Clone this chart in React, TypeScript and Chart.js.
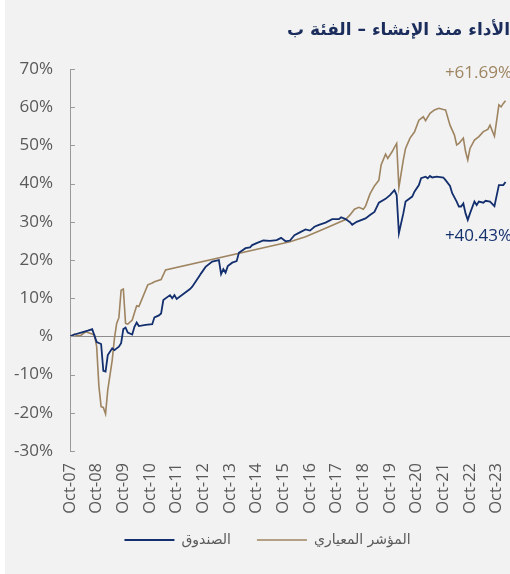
import React, { useEffect, useRef } from "react";
import { Chart, registerables } from "chart.js";

Chart.register(...registerables);

const TITLE = "الأداء منذ الإنشاء – الفئة ب";
const FUND_LABEL = "الصندوق";
const BENCH_LABEL = "المؤشر المعياري";

// x = months since Oct 2007
const X_TICK_MONTHS = [0, 12, 24, 36, 48, 60, 72, 84, 96, 108, 120, 132, 144, 156, 168, 180, 192];
const X_TICK_LABELS = [
  "Oct-07", "Oct-08", "Oct-09", "Oct-10", "Oct-11", "Oct-12", "Oct-13", "Oct-14", "Oct-15",
  "Oct-16", "Oct-17", "Oct-18", "Oct-19", "Oct-20", "Oct-21", "Oct-22", "Oct-23",
];
const Y_TICK_VALUES = [-30, -20, -10, 0, 10, 20, 30, 40, 50, 60, 70];
const Y_TICK_LABELS = ["-30%", "-20%", "-10%", "%", "10%", "20%", "30%", "40%", "50%", "60%", "70%"];

const FUND_MONTHS = [
  0, 2, 5, 8, 10, 11, 12, 14, 15, 16, 17, 19, 20, 22, 23, 24, 25, 26, 28, 29, 30, 31, 34, 37, 38, 40,
  41, 42, 45, 46, 47, 48, 51, 54, 55, 58, 59, 61, 64, 67, 68, 69, 70, 71, 73, 75, 76, 79, 81, 82, 84,
  87, 90, 93, 95, 97, 99, 101, 103, 106, 108, 110, 112, 115, 118, 121, 122, 124, 126, 127, 129, 133,
  135, 137, 139, 142, 144, 146, 147, 148, 150, 151, 154, 155, 157, 158, 160, 161, 162, 163, 165, 168,
  169, 171, 172, 174, 175, 176, 177, 178, 179, 180, 182, 183, 184, 186, 187, 189, 191, 193, 195, 196,
];
const FUND_VALUES = [
  0, 0.5, 1.0, 1.5, 1.9, 0.2, -1.5, -2.0, -9.0, -9.2, -4.9, -3.1, -3.6, -2.7, -1.8, 1.9, 2.3, 1.0, 0.5,
  2.5, 3.6, 2.7, 3.0, 3.2, 5.0, 5.5, 6.0, 9.5, 10.8, 10.0, 10.8, 9.8, 11.1, 12.4, 13.0, 15.6, 16.5,
  18.2, 19.6, 20.0, 16.3, 17.6, 16.7, 18.4, 19.3, 19.7, 21.9, 23.1, 23.3, 23.9, 24.4, 25.1, 25.0, 25.2,
  25.8, 24.9, 25.1, 26.5, 27.1, 28.0, 27.7, 28.7, 29.2, 29.8, 30.7, 30.7, 31.2, 30.7, 29.9, 29.2, 30.0,
  30.9, 31.8, 32.6, 35.0, 36.0, 37.0, 38.3, 37.0, 27.0, 32.2, 35.3, 36.6, 37.9, 39.6, 41.4, 41.8, 41.4,
  42.0, 41.6, 41.8, 41.6, 40.9, 39.4, 37.5, 35.3, 34.0, 34.0, 34.8, 32.2, 30.5, 32.2, 35.3, 34.4, 35.3,
  35.0, 35.5, 35.3, 34.1, 39.6, 39.6, 40.43,
];

const BENCH_MONTHS = [
  0, 2, 3, 5, 7, 9, 11, 12, 13, 14, 15, 16, 17, 19, 20, 21, 22, 23, 24, 25, 26, 28, 30, 31, 35, 37, 38,
  41, 43, 99, 106, 115, 124, 126, 128, 130, 132, 133, 135, 137, 139, 140, 142, 143, 145, 146, 147, 148,
  150, 151, 153, 155, 157, 159, 160, 162, 164, 166, 168, 169, 171, 173, 174, 175, 177, 178, 179, 180,
  182, 184, 186, 188, 189, 191, 193, 194, 195, 196,
];
const BENCH_VALUES = [
  0, 0.6, 0.2, 0.3, 1.2, 0.8, 0.4, -2.7, -13.0, -18.4, -18.6, -20.3, -14.0, -6.2, -0.5, 3.4, 4.9, 12.1,
  12.4, 3.4, 3.2, 4.3, 8.0, 7.8, 13.5, 14.0, 14.3, 14.9, 17.4, 24.8, 26.1, 28.3, 30.6, 31.8, 33.3, 33.8,
  33.3, 34.1, 37.3, 39.4, 40.9, 44.9, 47.7, 46.6, 48.4, 49.5, 50.5, 39.0, 46.2, 49.2, 51.9, 53.5, 56.6,
  57.5, 56.5, 58.4, 59.3, 59.7, 59.4, 59.3, 55.3, 52.7, 50.1, 50.5, 51.9, 48.4, 46.2, 49.2, 51.4, 52.3,
  53.6, 54.2, 55.3, 52.4, 60.6, 60.1, 61.0, 61.69,
];

const NAVY = "#132f6e";
const BROWN = "#9e8460";
const GREY_TEXT = "#595959";
const FONT = "'Open Sans', 'DejaVu Sans', sans-serif";

const overlayPlugin = {
  id: "overlay",
  afterLayout(chart: any) {
    if (chart.legend) {
      chart.legend.left += 20;
      chart.legend.top -= 10;
      chart.legend.bottom -= 10;
    }
  },
  afterDatasetsDraw(chart: any) {
    const { ctx, chartArea, scales } = chart;
    const y = scales.y;
    ctx.save();
    ctx.strokeStyle = "#9a9a9a";
    ctx.lineWidth = 1;
    Y_TICK_VALUES.forEach((v) => {
      const py = Math.round(y.getPixelForValue(v)) + 0.5;
      ctx.beginPath();
      ctx.moveTo(chartArea.left, py);
      ctx.lineTo(chartArea.left + 5, py);
      ctx.stroke();
    });
    ctx.font = `17px ${FONT}`;
    ctx.textAlign = "right";
    ctx.textBaseline = "middle";
    const fundMeta = chart.getDatasetMeta(0);
    const benchMeta = chart.getDatasetMeta(1);
    const fEnd = fundMeta.data[fundMeta.data.length - 1];
    const bEnd = benchMeta.data[benchMeta.data.length - 1];
    ctx.fillStyle = BROWN;
    ctx.fillText("+" + BENCH_VALUES[BENCH_VALUES.length - 1].toFixed(2) + "%", chartArea.right + 2, bEnd.y - 28);
    ctx.fillStyle = NAVY;
    ctx.fillText("+" + FUND_VALUES[FUND_VALUES.length - 1].toFixed(2) + "%", chartArea.right + 2, fEnd.y + 54);
    ctx.restore();
  },
};

export default function App() {
  const ref = useRef<HTMLCanvasElement>(null);
  useEffect(() => {
    const chart = new Chart(ref.current as HTMLCanvasElement, {
      type: "line",
      data: {
        datasets: [
          {
            label: FUND_LABEL,
            data: FUND_MONTHS.map((m, i) => ({ x: m, y: FUND_VALUES[i] })),
            borderColor: NAVY,
            backgroundColor: NAVY,
            borderWidth: 1.8,
            pointRadius: 0,
            tension: 0,
          },
          {
            label: BENCH_LABEL,
            data: BENCH_MONTHS.map((m, i) => ({ x: m, y: BENCH_VALUES[i] })),
            borderColor: BROWN,
            backgroundColor: BROWN,
            borderWidth: 1.6,
            pointRadius: 0,
            tension: 0,
          },
        ],
      },
      options: {
        animation: false,
        responsive: true,
        maintainAspectRatio: false,
        layout: { padding: { top: 0, right: 0, bottom: 7, left: 0 } },
        scales: {
          x: {
            type: "linear",
            min: 0,
            max: 198,
            afterBuildTicks: (scale: any) => {
              scale.ticks = X_TICK_MONTHS.map((v) => ({ value: v }));
            },
            afterFit: (scale: any) => {
              scale.height = 66;
              scale.paddingLeft = 0;
              scale.paddingRight = 0;
            },
            ticks: {
              autoSkip: false,
              minRotation: 90,
              maxRotation: 90,
              padding: 12,
              color: GREY_TEXT,
              font: { size: 16.5, family: FONT },
              callback: (_v: any, i: number) => X_TICK_LABELS[i],
            },
            grid: { display: false, drawTicks: false },
            border: { display: false },
          },
          y: {
            min: -30,
            max: 70,
            afterBuildTicks: (scale: any) => {
              scale.ticks = Y_TICK_VALUES.map((v) => ({ value: v }));
            },
            afterFit: (scale: any) => {
              scale.width = 65;
            },
            ticks: {
              padding: 17,
              color: GREY_TEXT,
              font: { size: 17, family: FONT },
              callback: (_v: any, i: number) => Y_TICK_LABELS[i],
            },
            grid: {
              drawTicks: false,
              color: (c: any) => (c.tick && c.tick.value === 0 ? "#8c8c8c" : "rgba(0,0,0,0)"),
              lineWidth: 1,
            },
            border: { display: true, color: "#9a9a9a", width: 1 },
          },
        },
        plugins: {
          title: {
            display: true,
            text: TITLE,
            align: "end",
            color: "#1b2d5c",
            font: { size: 17, weight: "bold", family: "'DejaVu Sans', sans-serif" },
            padding: { top: 20, bottom: 28.6 },
          },
          legend: {
            display: true,
            position: "bottom",
            align: "center",
            labels: {
              usePointStyle: true,
              pointStyle: "line",
              pointStyleWidth: 50,
              padding: 26,
              color: GREY_TEXT,
              font: { size: 14, family: "'DejaVu Sans', sans-serif" },
            },
          },
          tooltip: { enabled: false },
        },
      },
      plugins: [overlayPlugin],
    } as any);
    return () => chart.destroy();
  }, []);
  return (
    <div
      style={{
        position: "absolute",
        left: 5,
        top: 0,
        width: 505,
        height: 574,
        background: "#f2f2f2",
      }}
    >
      <canvas ref={ref} />
    </div>
  );
}
